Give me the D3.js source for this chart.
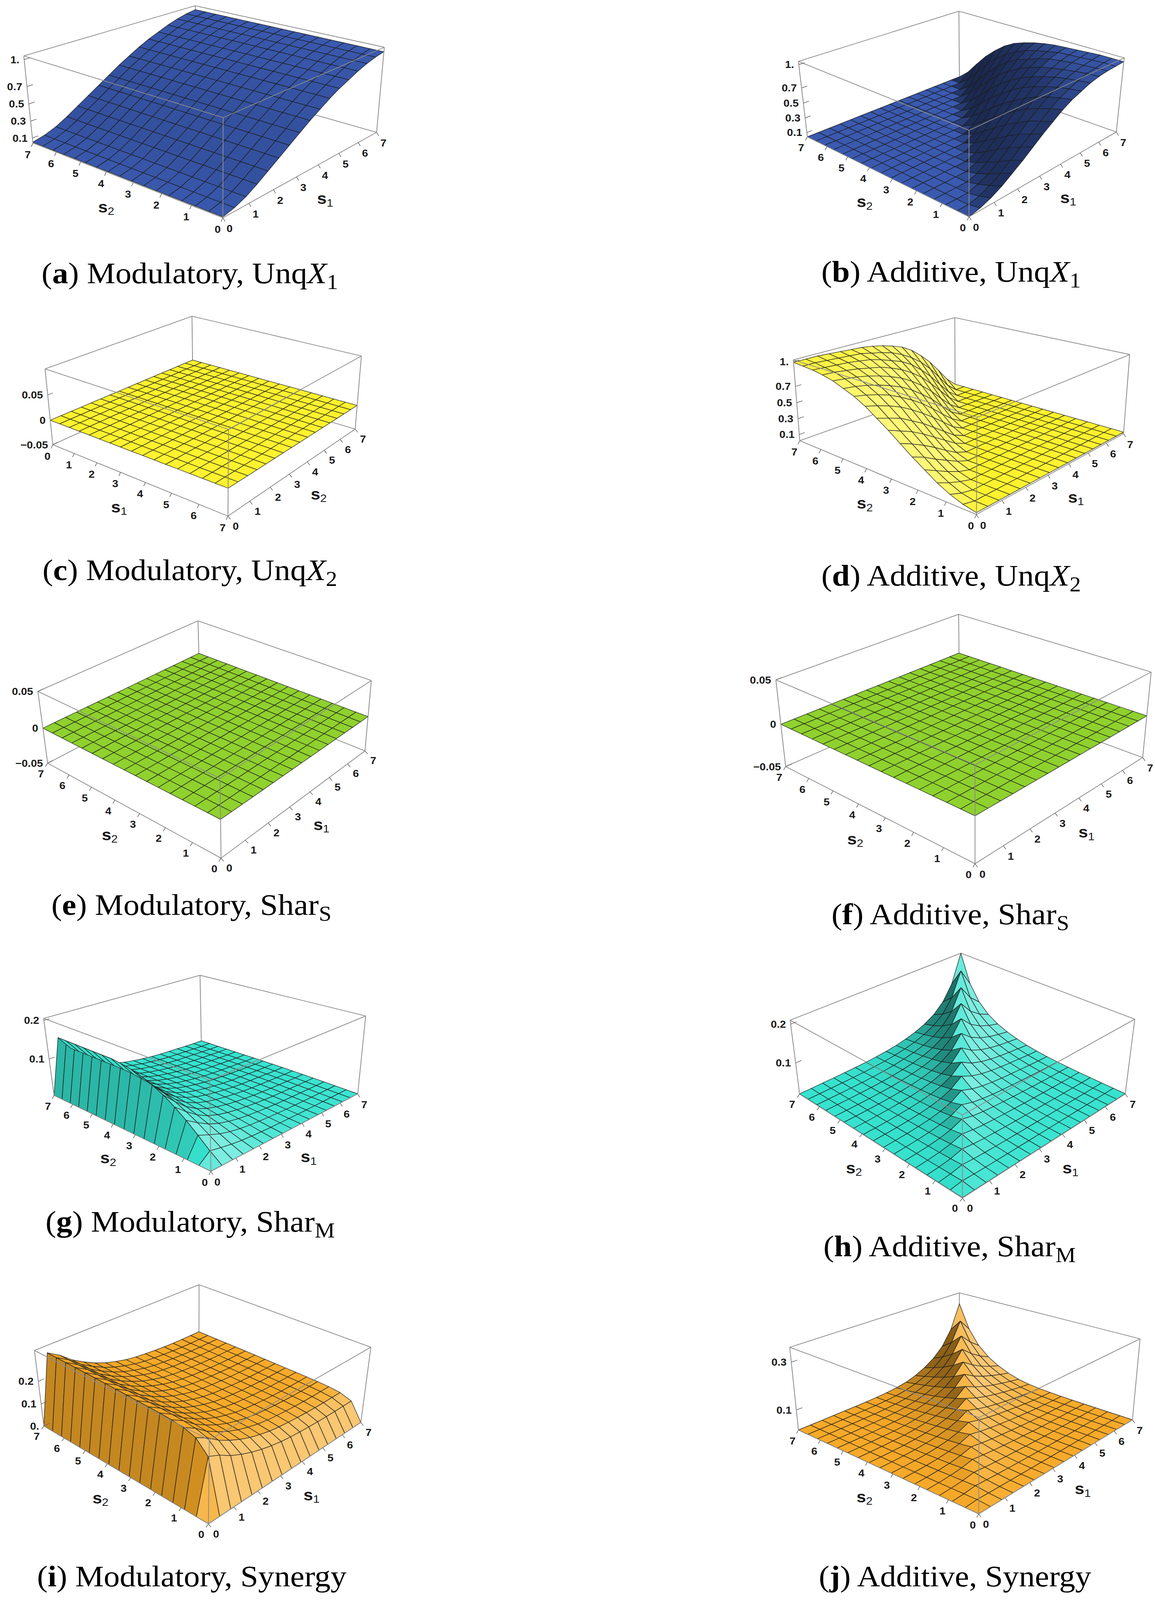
<!DOCTYPE html>
<html>
<head>
<meta charset="utf-8">
<script src="https://cdn.jsdelivr.net/npm/d3@7"></script>
<style>
  html, body { margin: 0; padding: 0; background: #fff; overflow: hidden; }
  #fig { display: block; width: 100vw; height: 100vh; }
  .tick-label { font-family: "Liberation Sans", Arial, sans-serif; font-weight: bold; font-size: 28px; fill: #1a1a1a; }
  .axis-label { font-family: "Liberation Sans", Arial, sans-serif; font-weight: bold; font-size: 44px; fill: #1a1a1a; }
  .caption { font-family: "Liberation Serif", "Times New Roman", serif; font-size: 82px; fill: #000; }
</style>
</head>
<body>
<svg id="fig" viewBox="0 0 2957 4386" preserveAspectRatio="none"></svg>
<script>
// ---- sampling grid (16 mesh cells on each side) and tick values ----
const sGrid = [0, 0.4375, 0.875, 1.3125, 1.75, 2.1875, 2.625, 3.0625, 3.5,
               3.9375, 4.375, 4.8125, 5.25, 5.6875, 6.125, 6.5625, 7];
const sTicks = [0, 1, 2, 3, 4, 5, 6, 7];

// (a) Modulatory, UnqX1 : only varies along s1
const modUnqX1 = [0.05, 0.08, 0.13, 0.2, 0.28, 0.36, 0.44, 0.52, 0.6, 0.67, 0.74, 0.8, 0.85, 0.9, 0.94, 0.97, 0.99];

// (b) Additive, UnqX1 : rows = s2 grid, columns = s1 grid.  (d) UnqX2 is the mirror image
const addUnqX1 = [
  [0.04,0.07,0.12,0.19,0.28,0.37,0.47,0.57,0.66,0.75,0.82,0.87,0.92,0.95,0.97,0.98,0.99],
  [0.04,0.04,0.07,0.13,0.21,0.31,0.41,0.51,0.61,0.71,0.79,0.85,0.90,0.94,0.96,0.98,0.99],
  [0.04,0.04,0.04,0.08,0.14,0.23,0.34,0.45,0.56,0.66,0.75,0.82,0.88,0.92,0.95,0.97,0.99],
  [0.04,0.04,0.04,0.04,0.08,0.16,0.26,0.37,0.48,0.60,0.70,0.78,0.85,0.90,0.94,0.96,0.98],
  [0.04,0.04,0.04,0.04,0.04,0.09,0.17,0.28,0.40,0.52,0.63,0.73,0.81,0.87,0.92,0.95,0.97],
  [0.04,0.04,0.04,0.04,0.04,0.04,0.09,0.19,0.30,0.43,0.55,0.67,0.76,0.84,0.90,0.94,0.96],
  [0.04,0.04,0.04,0.04,0.04,0.04,0.04,0.10,0.20,0.33,0.46,0.59,0.70,0.79,0.86,0.91,0.95],
  [0.04,0.04,0.04,0.04,0.04,0.04,0.04,0.04,0.10,0.22,0.35,0.49,0.62,0.73,0.81,0.88,0.93],
  [0.04,0.04,0.04,0.04,0.04,0.04,0.04,0.04,0.04,0.11,0.23,0.38,0.52,0.65,0.76,0.84,0.90],
  [0.04,0.04,0.04,0.04,0.04,0.04,0.04,0.04,0.04,0.04,0.12,0.25,0.40,0.55,0.68,0.78,0.86],
  [0.04,0.04,0.04,0.04,0.04,0.04,0.04,0.04,0.04,0.04,0.04,0.12,0.26,0.42,0.57,0.70,0.81],
  [0.04,0.04,0.04,0.04,0.04,0.04,0.04,0.04,0.04,0.04,0.04,0.04,0.13,0.28,0.44,0.60,0.73],
  [0.04,0.04,0.04,0.04,0.04,0.04,0.04,0.04,0.04,0.04,0.04,0.04,0.04,0.14,0.29,0.47,0.62],
  [0.04,0.04,0.04,0.04,0.04,0.04,0.04,0.04,0.04,0.04,0.04,0.04,0.04,0.04,0.14,0.31,0.49],
  [0.04,0.04,0.04,0.04,0.04,0.04,0.04,0.04,0.04,0.04,0.04,0.04,0.04,0.04,0.04,0.15,0.33],
  [0.04,0.04,0.04,0.04,0.04,0.04,0.04,0.04,0.04,0.04,0.04,0.04,0.04,0.04,0.04,0.04,0.16],
  [0.04,0.04,0.04,0.04,0.04,0.04,0.04,0.04,0.04,0.04,0.04,0.04,0.04,0.04,0.04,0.04,0.04]
];

// (c), (e), (f) : flat at zero
const flatValue = 0;

// (g) Modulatory, SharM : profile along s1 times profile along s2
const modSharM_s1 = [0, 0.147, 0.11, 0.078, 0.055, 0.04, 0.03, 0.023, 0.018, 0.014, 0.011, 0.009, 0.008, 0.007, 0.006, 0.005, 0.005];
const modSharM_s2 = [0, 0.15, 0.32, 0.48, 0.62, 0.74, 0.83, 0.9, 0.95, 0.98, 1, 1, 1, 1, 1, 1, 1];

// (h) Additive, SharM : ridge on the diagonal, decaying away from it
const addSharM_floor = 0.016;
const addSharM_diag  = [0, 0.004, 0.008, 0.013, 0.018, 0.024, 0.031, 0.039, 0.048, 0.058, 0.07, 0.084, 0.1, 0.118, 0.14, 0.165, 0.195];
const addSharM_decay = [1, 0.72, 0.55, 0.44, 0.36, 0.3, 0.25, 0.2, 0.16, 0.13, 0.105, 0.085, 0.07, 0.055, 0.045, 0.035, 0.03];

// (i) Modulatory, Synergy
const modSyn_s1 = [0, 0.30, 0.27, 0.23, 0.20, 0.175, 0.155, 0.14, 0.128, 0.12, 0.115, 0.111, 0.108, 0.106, 0.105, 0.105, 0.105];
const modSyn_s2 = [0, 0.72, 0.88, 0.93, 0.95, 0.96, 0.965, 0.97, 0.975, 0.98, 0.984, 0.988, 0.991, 0.994, 0.996, 0.998, 1];

// (j) Additive, Synergy
const addSyn_floor = 0.013;
const addSyn_diag  = [0, 0.004, 0.009, 0.015, 0.022, 0.03, 0.04, 0.051, 0.064, 0.079, 0.096, 0.116, 0.139, 0.166, 0.198, 0.24, 0.295];
const addSyn_decay = [1, 0.78, 0.61, 0.48, 0.37, 0.27, 0.18, 0.12, 0.08, 0.055, 0.038, 0.027, 0.019, 0.014, 0.01, 0.008, 0.006];

// vertical tick values / labels
const zTicksUnq = [0.1, 0.3, 0.5, 0.7, 1.0],  zLabelsUnq = ["0.1", "0.3", "0.5", "0.7", "1."];
const zTicksZero = [-0.05, 0, 0.05],          zLabelsZero = ["\u22120.05", "0", "0.05"];
const zTicksSharM = [0.1, 0.2],               zLabelsSharM = ["0.1", "0.2"];
const zTicksModSyn = [0, 0.1, 0.2],           zLabelsModSyn = ["0.", "0.1", "0.2"];
const zTicksAddSyn = [0.1, 0.3],              zLabelsAddSyn = ["0.1", "0.3"];

// ---- layout: where each box's corners sit on the page (viewport calibration) ----
const panels = [
  { id: "a", layout: "normal", color: "#3a5ab0", zDomain: [0.04, 1.04], zTicks: zTicksUnq, zLabels: zLabelsUnq,
    value: (i, j) => modUnqX1[i],
    frame: {LT:[61,153], LB:[84,392], FB:[571,597], FT:[571,323], RB:[964,363], RT:[984,129], BT:[500,16]},
    cap: {x: 486, y: 776, letter: "a", text: "Modulatory, Unq", it: "X", sub: "1"} },
  { id: "b", layout: "normal", color: "#3a5ab0", zDomain: [0.04, 1.04], zTicks: zTicksUnq, zLabels: zLabelsUnq,
    value: (i, j) => addUnqX1[j][i],
    frame: {LT:[2044,168], LB:[2067,375], FB:[2481,594], FT:[2481,358], RB:[2858,362], RT:[2878,158], BT:[2455,31]},
    cap: {x: 2435, y: 772, letter: "b", text: "Additive, Unq", it: "X", sub: "1"} },
  { id: "c", layout: "swapped", color: "#fff22e", zDomain: [-0.05, 0.1], zTicks: zTicksZero, zLabels: zLabelsZero,
    value: () => flatValue,
    frame: {LT:[116,1010], LB:[135,1220], FB:[584,1415], FT:[584,1177], RB:[909,1175], RT:[926,977], BT:[491,867]},
    cap: {x: 486, y: 1590, letter: "c", text: "Modulatory, Unq", it: "X", sub: "2"} },
  { id: "d", layout: "normal", color: "#fff22e", zDomain: [0.02, 1.02], zTicks: zTicksUnq, zLabels: zLabelsUnq,
    value: (i, j) => addUnqX1[i][j],
    frame: {LT:[2031,987], LB:[2047,1207], FB:[2501,1410], FT:[2501,1145], RB:[2876,1190], RT:[2892,970], BT:[2445,871]},
    cap: {x: 2435, y: 1605, letter: "d", text: "Additive, Unq", it: "X", sub: "2"} },
  { id: "e", layout: "normal", color: "#8fd12e", zDomain: [-0.05, 0.05], zTicks: zTicksZero, zLabels: zLabelsZero,
    value: () => flatValue,
    frame: {LT:[97,1893], LB:[123,2094], FB:[564,2353], FT:[564,2133], RB:[935,2056], RT:[951,1868], BT:[506,1702]},
    cap: {x: 490, y: 2508, letter: "e", text: "Modulatory, Shar", it: "", sub: "S"} },
  { id: "f", layout: "normal", color: "#8fd12e", zDomain: [-0.05, 0.05], zTicks: zTicksZero, zLabels: zLabelsZero,
    value: () => flatValue,
    frame: {LT:[1986,1865], LB:[2012,2101], FB:[2496,2370], FT:[2496,2093], RB:[2925,2075], RT:[2948,1845], BT:[2454,1683]},
    cap: {x: 2433, y: 2534, letter: "f", text: "Additive, Shar", it: "", sub: "S"} },
  { id: "g", layout: "normal", color: "#36e3cf", zDomain: [0, 0.205], zTicks: zTicksSharM, zLabels: zLabelsSharM,
    value: (i, j) => modSharM_s1[i] * modSharM_s2[j],
    frame: {LT:[110,2795], LB:[139,3000], FB:[539,3212], FT:[539,2959], RB:[916,3000], RT:[935,2784], BT:[513,2673]},
    cap: {x: 487, y: 3376, letter: "g", text: "Modulatory, Shar", it: "", sub: "M"} },
  { id: "h", layout: "normal", color: "#36e3cf", zDomain: [0.015, 0.21], zTicks: zTicksSharM, zLabels: zLabelsSharM,
    value: (i, j) => addSharM_floor + addSharM_diag[Math.min(i, j)] * addSharM_decay[Math.abs(i - j)],
    frame: {LT:[2022,2799], LB:[2048,2998], FB:[2464,3287], FT:[2464,3052], RB:[2880,2998], RT:[2906,2796], BT:[2460,2612]},
    cap: {x: 2431, y: 3444, letter: "h", text: "Additive, Shar", it: "", sub: "M"} },
  { id: "i", layout: "normal", color: "#f7a928", zDomain: [0, 0.33], zTicks: zTicksModSyn, zLabels: zLabelsModSyn,
    value: (i, j) => modSyn_s1[i] * modSyn_s2[j],
    frame: {LT:[87,3707], LB:[113,3906], FB:[535,4182], FT:[535,3940], RB:[922,3898], RT:[951,3696], BT:[510,3520]},
    cap: {x: 491, y: 4348, letter: "i", text: "Modulatory, Synergy", it: "", sub: ""} },
  { id: "j", layout: "normal", color: "#f7a928", zDomain: [0.013, 0.36], zTicks: zTicksAddSyn, zLabels: zLabelsAddSyn,
    value: (i, j) => addSyn_floor + addSyn_diag[Math.min(i, j)] * addSyn_decay[Math.abs(i - j)],
    frame: {LT:[2022,3693], LB:[2044,3920], FB:[2506,4150], FT:[2506,3886], RB:[2899,3892], RT:[2919,3670], BT:[2456,3544]},
    cap: {x: 2445, y: 4348, letter: "j", text: "Additive, Synergy", it: "", sub: ""} }
];

// ground position of the box corners in unit coordinates (x = s1, y = s2)
const CORNERS = {
  normal:  { LB: [0, 1], FB: [0, 0], RB: [1, 0], BB: [1, 1] },
  swapped: { LB: [0, 0], FB: [1, 0], RB: [1, 1], BB: [0, 1] }
};
const corner3 = (layout, name) => {
  const xy = CORNERS[layout][name[0] + "B"];
  return [xy[0], xy[1], name[1] === "T" ? 1 : 0];
};

const dot = (a, b) => a[0] * b[0] + a[1] * b[1] + a[2] * b[2];
const cross = (a, b) => [a[1] * b[2] - a[2] * b[1], a[2] * b[0] - a[0] * b[2], a[0] * b[1] - a[1] * b[0]];
const sub3 = (a, b) => [a[0] - b[0], a[1] - b[1], a[2] - b[2]];
const norm3 = a => { const l = Math.hypot(a[0], a[1], a[2]) || 1; return a.map(d => d / l); };

// perspective camera fitted to the box corners (direct linear transform)
function fitCamera(frame, layout) {
  const names = Object.keys(frame);
  const cu = d3.mean(names, n => frame[n][0]), cv = d3.mean(names, n => frame[n][1]);
  const sc = 400, N = 11;
  const M = Array.from({length: N}, () => new Array(N + 1).fill(0));
  const addRow = (row, rhs) => {
    for (let a = 0; a < N; a++) {
      for (let c = 0; c < N; c++) M[a][c] += row[a] * row[c];
      M[a][N] += row[a] * rhs;
    }
  };
  names.forEach(n => {
    const [X, Y, Z] = corner3(layout, n);
    const u = (frame[n][0] - cu) / sc, v = (frame[n][1] - cv) / sc;
    addRow([X, Y, Z, 1, 0, 0, 0, 0, -u * X, -u * Y, -u * Z], u);
    addRow([0, 0, 0, 0, X, Y, Z, 1, -v * X, -v * Y, -v * Z], v);
  });
  for (let a = 8; a < N; a++) M[a][a] += 1e-3;
  for (let c = 0; c < N; c++) {
    let piv = c;
    for (let r = c + 1; r < N; r++) if (Math.abs(M[r][c]) > Math.abs(M[piv][c])) piv = r;
    [M[c], M[piv]] = [M[piv], M[c]];
    for (let r = 0; r < N; r++) {
      if (r === c) continue;
      const f = M[r][c] / M[c][c];
      for (let k = c; k <= N; k++) M[r][k] -= f * M[c][k];
    }
  }
  const p = M.map((row, i) => row[N] / row[i]);
  const project = P => {
    const w = p[8] * P[0] + p[9] * P[1] + p[10] * P[2] + 1;
    return [cu + sc * (p[0] * P[0] + p[1] * P[1] + p[2] * P[2] + p[3]) / w,
            cv + sc * (p[4] * P[0] + p[5] * P[1] + p[6] * P[2] + p[7]) / w];
  };
  let view = cross([p[0], p[1], p[2]], [p[4], p[5], p[6]]);
  if (dot(view, sub3(corner3(layout, "BB"), corner3(layout, "FB"))) < 0) view = view.map(d => -d);
  return {project, depth: P => dot(view, P)};
}

const unitS = d3.scaleLinear().domain([0, 7]).range([0, 1]);
// two directional lights (one from the right, one low from the front) plus ambient
const light1 = norm3([0.6, -0.6, 0.6]), light2 = norm3([-0.6, -0.75, 0.3]);
const boxHeight = 0.45;
const ka = 0.25, kd1 = 0.5, kd2 = 0.45;
const flatLevel = ka + kd1 * light1[2] + kd2 * light2[2];

function shade(base, n) {
  const f = (ka + kd1 * Math.max(0, dot(n, light1)) + kd2 * Math.max(0, dot(n, light2))) / flatLevel;
  return f <= 1 ? d3.interpolateRgb("#000", base)(f)
                : d3.interpolateRgb(base, "#fff")(Math.min(0.35, (f - 1) * 1.0));
}

const svg = d3.select("#fig");
svg.append("rect").attr("width", 2957).attr("height", 4386).attr("fill", "#fff");

const backEdges = [["BB","LB"], ["BB","RB"], ["BB","BT"], ["BT","LT"], ["BT","RT"]];
const frontEdges = [["FB","LB"], ["FB","RB"], ["FB","FT"], ["FT","LT"], ["FT","RT"], ["LB","LT"], ["RB","RT"]];

panels.forEach(pn => {
  const cam = fitCamera(pn.frame, pn.layout);
  const zUnit = d3.scaleLinear().domain(pn.zDomain).range([0, 1]).clamp(true);
  const C = name => corner3(pn.layout, name);
  const g = svg.append("g").attr("id", "panel-" + pn.id);

  const drawEdge = ([a, b]) => {
    const A = cam.project(C(a)), B = cam.project(C(b));
    g.append("line").attr("x1", A[0]).attr("y1", A[1]).attr("x2", B[0]).attr("y2", B[1])
      .attr("stroke", "#8c8c8c").attr("stroke-width", 2);
  };
  backEdges.forEach(drawEdge);

  // surface cells, painted back to front
  const quads = [];
  for (let i = 0; i < sGrid.length - 1; i++) {
    for (let j = 0; j < sGrid.length - 1; j++) {
      const P = [[i, j], [i + 1, j], [i + 1, j + 1], [i, j + 1]]
        .map(([a, b]) => [unitS(sGrid[a]), unitS(sGrid[b]), zUnit(pn.value(a, b))]);
      const phys = P.map(q => [q[0], q[1], q[2] * boxHeight]);
      let n = norm3(cross(sub3(phys[2], phys[0]), sub3(phys[3], phys[1])));
      if (n[2] < 0) n = n.map(d => -d);
      const ctr = [d3.mean(P, q => q[0]), d3.mean(P, q => q[1]), d3.mean(P, q => q[2])];
      quads.push({pts: P.map(cam.project), depth: cam.depth(ctr), fill: shade(pn.color, n)});
    }
  }
  quads.sort((a, b) => b.depth - a.depth);
  const line = d3.line().curve(d3.curveLinearClosed);
  g.append("g").selectAll("path").data(quads).join("path")
    .attr("d", d => line(d.pts))
    .attr("fill", d => d.fill)
    .attr("stroke", "rgba(28,28,28,0.78)")
    .attr("stroke-width", 1.7)
    .attr("stroke-linejoin", "round");

  frontEdges.forEach(drawEdge);

  // ground axes (front-left and front-right bottom edges)
  const ctrScreen = cam.project([0.5, 0.5, 0]);
  [["LB", "FB"], ["FB", "RB"]].forEach(([a, b]) => {
    const A = C(a), B = C(b);
    const k = A[0] !== B[0] ? 0 : 1;
    const pa = cam.project(A), pb = cam.project(B);
    const L = Math.hypot(pb[0] - pa[0], pb[1] - pa[1]);
    const e = [(pb[0] - pa[0]) / L, (pb[1] - pa[1]) / L];
    let nv = [-e[1], e[0]];
    const Mid = A.slice(); Mid[k] = 0.5;
    const m = cam.project(Mid);
    if ((m[0] - ctrScreen[0]) * nv[0] + (m[1] - ctrScreen[1]) * nv[1] < 0) nv = nv.map(d => -d);
    sTicks.forEach(v => {
      const P = A.slice(); P[k] = unitS(v);
      const q = cam.project(P);
      g.append("line").attr("x1", q[0]).attr("y1", q[1])
        .attr("x2", q[0] + nv[0] * 11).attr("y2", q[1] + nv[1] * 11)
        .attr("stroke", "#666").attr("stroke-width", 1.6);
      g.append("text").attr("class", "tick-label")
        .attr("x", q[0] + nv[0] * 34).attr("y", q[1] + nv[1] * 34)
        .attr("text-anchor", "middle").attr("dominant-baseline", "central")
        .text(v);
    });
    const lab = g.append("text").attr("class", "axis-label")
      .attr("x", m[0] + nv[0] * 88).attr("y", m[1] + nv[1] * 88)
      .attr("text-anchor", "middle").attr("dominant-baseline", "central");
    lab.append("tspan").text("s");
    lab.append("tspan").attr("dy", 12).attr("font-size", 30).attr("font-weight", "normal").text(k === 0 ? "1" : "2");
  });

  // vertical axis on the left edge
  const LB3 = C("LB"), BB3 = C("BB");
  const tdir = sub3(BB3, LB3).map(d => d * 0.03);
  pn.zTicks.forEach((v, idx) => {
    const P = [LB3[0], LB3[1], zUnit(v)];
    const q = cam.project(P);
    const q2 = cam.project([P[0] + tdir[0], P[1] + tdir[1], P[2]]);
    g.append("line").attr("x1", q[0]).attr("y1", q[1]).attr("x2", q2[0]).attr("y2", q2[1])
      .attr("stroke", "#666").attr("stroke-width", 1.6);
    g.append("text").attr("class", "tick-label")
      .attr("x", q[0] - 12).attr("y", q[1])
      .attr("text-anchor", "end").attr("dominant-baseline", "central")
      .text(pn.zLabels[idx]);
  });

  // caption
  const cp = pn.cap;
  const t = svg.append("text").attr("class", "caption")
    .attr("x", cp.x).attr("y", cp.y).attr("text-anchor", "middle");
  t.append("tspan").text("(");
  t.append("tspan").attr("font-weight", "bold").text(cp.letter);
  t.append("tspan").text(") " + cp.text);
  if (cp.it) t.append("tspan").attr("font-style", "italic").text(cp.it);
  if (cp.sub) t.append("tspan").attr("font-size", 58).attr("dy", 16).text(cp.sub);
});
</script>
</body>
</html>
